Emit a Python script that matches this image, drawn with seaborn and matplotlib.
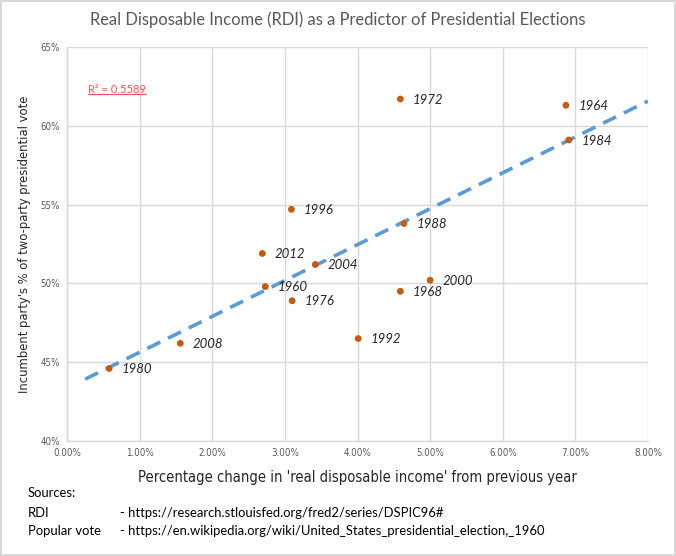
import numpy as np
import pandas as pd
import matplotlib
matplotlib.use("Agg")
import matplotlib.pyplot as plt
import seaborn as sns
from matplotlib.ticker import FuncFormatter, MultipleLocator

years = ["1960", "1964", "1968", "1972", "1976", "1980", "1984", "1988",
         "1992", "1996", "2000", "2004", "2008", "2012"]
rdi_change = [2.73, 6.87, 4.59, 4.59, 3.10, 0.58, 6.91, 4.64,
              4.01, 3.09, 5.00, 3.42, 1.56, 2.69]
incumbent_share = [49.8, 61.3, 49.5, 61.7, 48.9, 44.6, 59.1, 53.8,
                   46.5, 54.7, 50.2, 51.2, 46.2, 51.9]
r2_text = "R² = 0.5589"
title = "Real Disposable Income (RDI) as a Predictor of Presidential Elections"
xlabel = "Percentage change in 'real disposable income' from previous year"
ylabel = "Incumbent party's % of two-party presidential vote"
sources = [("Sources:", ""),
           ("RDI", "- https://research.stlouisfed.org/fred2/series/DSPIC96#"),
           ("Popular vote", "- https://en.wikipedia.org/wiki/United_States_presidential_election,_1960")]

df = pd.DataFrame({"year": years, "rdi": rdi_change, "share": incumbent_share})

sns.set_theme(style="white")
narrow = ["DejaVu Sans"]
body = ["Lato", "DejaVu Sans"]
plt.rcParams["font.family"] = body

fig = plt.figure(figsize=(6.76, 5.56), dpi=100)
fig.patch.set_edgecolor("#d9d9d9")
fig.patch.set_linewidth(1.5)
ax = fig.add_axes([67/676, 1-441/556, (648-67)/676, (441-47)/556])

# trendline (least squares)
slope, intercept = np.polyfit(df["rdi"], df["share"], 1)
xt = np.array([0.25, 8.0])
ax.plot(xt, slope*xt + intercept, color="#5b9bd5", lw=2.6, ls=(0, (4, 2.4)), zorder=2)

sns.scatterplot(data=df, x="rdi", y="share", ax=ax, color="#c55a11",
                s=24, edgecolor="none", zorder=3, legend=False)

for _, r in df.iterrows():
    ax.annotate(r["year"], (r["rdi"], r["share"]), xytext=(9, -0.5),
                textcoords="offset points", va="center", ha="left",
                fontsize=9.5, style="italic", color="#262626", family=body)

ax.set_xlim(0, 8)
ax.set_ylim(40, 65)
ax.xaxis.set_major_locator(MultipleLocator(1))
ax.yaxis.set_major_locator(MultipleLocator(5))
ax.xaxis.set_major_formatter(FuncFormatter(lambda v, p: f"{v:.2f}%"))
ax.yaxis.set_major_formatter(FuncFormatter(lambda v, p: f"{v:.0f}%"))
ax.grid(True, color="#d9d9d9", lw=1)
for s in ["top", "right"]:
    ax.spines[s].set_visible(False)
for s in ["left", "bottom"]:
    ax.spines[s].set_color("#d9d9d9")
    ax.spines[s].set_linewidth(1)
ax.tick_params(axis="both", length=0, labelsize=7, colors="#595959", pad=5)
for lab in ax.get_xticklabels() + ax.get_yticklabels():
    lab.set_family(narrow)
    lab.set_stretch("condensed")

ax.set_xlabel(xlabel, fontsize=10.5, color="#262626", family=narrow,
              fontstretch="condensed", labelpad=9)
ax.set_ylabel(ylabel, fontsize=9.3, color="#262626", family=narrow,
              fontstretch="condensed", labelpad=7)

fig.text(0.5, 1-20/556, title, ha="center", va="center", fontsize=11.9,
         color="#595959", family=body)

t = ax.text(0.037, 0.893, r2_text, transform=ax.transAxes, fontsize=8,
            color="#ff5050", family=body, va="center")

ys = [493, 513, 531]
for (a, b), yy in zip(sources, ys):
    fig.text(28/676, 1-yy/556, a, fontsize=9.4, color="black", family=body, va="center")
    if b:
        fig.text(120/676, 1-yy/556, b, fontsize=9.4, color="black", family=body, va="center")

# underline the R² text
fig.canvas.draw()
bb = t.get_window_extent().transformed(fig.transFigure.inverted())
fig.add_artist(plt.Line2D([bb.x0, bb.x1], [bb.y0 + 0.001, bb.y0 + 0.001],
                          transform=fig.transFigure, color="#ff5050", lw=0.8))

fig.savefig("out.png", dpi=100, edgecolor=fig.get_edgecolor())
